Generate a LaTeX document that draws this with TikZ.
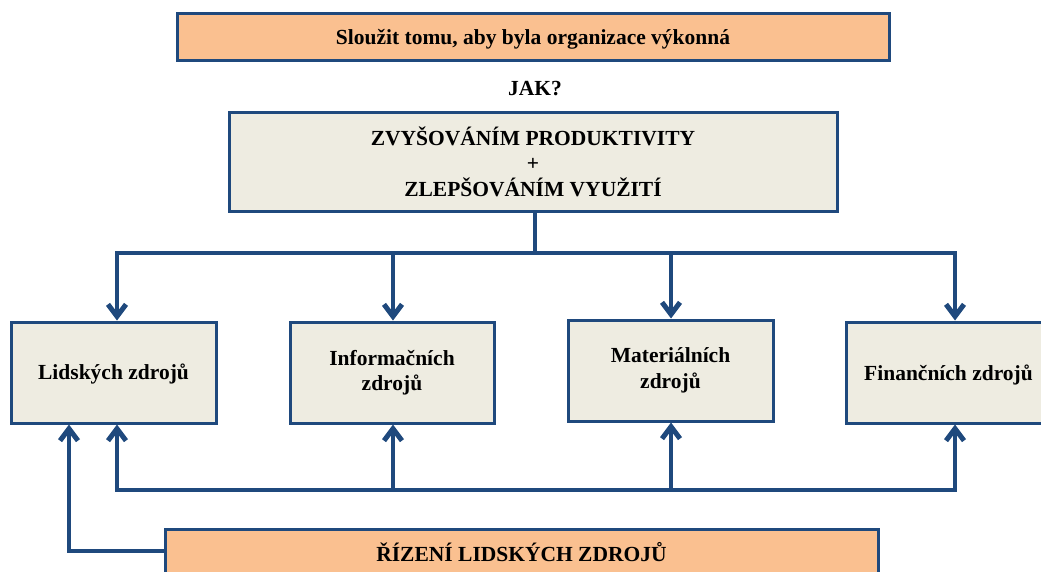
\documentclass[tikz,border=0pt]{standalone}
\usepackage{fontspec}
\setmainfont{Liberation Serif}
\usetikzlibrary{arrows.meta}
\definecolor{lineblue}{HTML}{1F497D}
\definecolor{boxorange}{HTML}{FAC090}
\definecolor{boxbeige}{HTML}{EEECE1}
\tikzset{
  bigfont/.style={font=\bfseries\fontsize{21.5}{25.5}\selectfont},
  orangebox/.style={draw=lineblue, line width=3pt, fill=boxorange, inner sep=0pt, bigfont},
  beigebox/.style={draw=lineblue, line width=3pt, fill=boxbeige, inner sep=0pt, align=center, bigfont},
  conn/.style={draw=lineblue, line width=4pt},
  arr/.style={conn, -{Straight Barb[length=12pt, width=18pt, line width=5pt]}},
}
\begin{document}
\begin{tikzpicture}[x=1pt, y=-1pt]
\useasboundingbox (0,0) rectangle (1041,571);
\begin{scope}
\clip (0,0) rectangle (1041,571);
% top box
\node[orangebox, minimum width=712pt, minimum height=47pt] (goal) at (533,36.5) {};
\node[bigfont] (goaltext) at (533,39) {Slou\v{z}it tomu, aby byla organizace výkonná};
\node[bigfont] (jak) at (535,88.5) {JAK?};
\node[beigebox, minimum width=608pt, minimum height=99pt] (how) at (533,161.5) {ZVYŠOVÁNÍM PRODUKTIVITY\\+\\ZLEPŠOVÁNÍM VYUŽITÍ};
% resource boxes
\node[beigebox, minimum width=205pt, minimum height=101pt] (r1) at (113.5,372.5) {};
\node[bigfont] (r1text) at (113.5,374.5) {Lidských zdrojů};
\node[beigebox, minimum width=204pt, minimum height=101pt] (r2) at (392,372.5) {Informačních\\zdrojů};
\node[beigebox, minimum width=205pt, minimum height=101pt] (r3) at (670.5,370.5) {Materiálních\\zdrojů};
\node[beigebox, minimum width=205pt, minimum height=101pt] (r4) at (948.5,372.5) {};
\node[bigfont] (r4text) at (948.5,374.5) {Finančních zdrojů};
% bottom box
\node[orangebox, minimum width=713pt, minimum height=50pt] (hrm) at (521.5,554) {};
\node[bigfont] (hrmtext) at (521.5,552) {ŘÍZENÍ LIDSKÝCH ZDROJŮ};
\end{scope}
% distribution connectors
\coordinate (top) at (535,253);
\draw[conn] (how.south -| top) -- (top);
\draw[conn, line cap=rect] (117,253) -- (955,253);
\draw[arr] (117,253) -- (r1.north -| 117,0);
\draw[arr] (393,253) -- (r2.north -| 393,0);
\draw[arr] (671,253) -- (r3.north -| 671,0);
\draw[arr] (955,253) -- (r4.north -| 955,0);
% feedback connectors
\coordinate (fb) at (117,490);
\draw[conn, line cap=rect] (117,490) -- (955,490);
\draw[arr] (fb) -- (r1.south -| 117,0);
\draw[arr] (393,490) -- (r2.south -| 393,0);
\draw[arr] (671,490) -- (r3.south -| 671,0);
\draw[arr] (955,490) -- (r4.south -| 955,0);
% HRM connector
\draw[arr] (hrm.west |- 0,551) -- (69,551) -- (r1.south -| 69,0);
\end{tikzpicture}
\end{document}
